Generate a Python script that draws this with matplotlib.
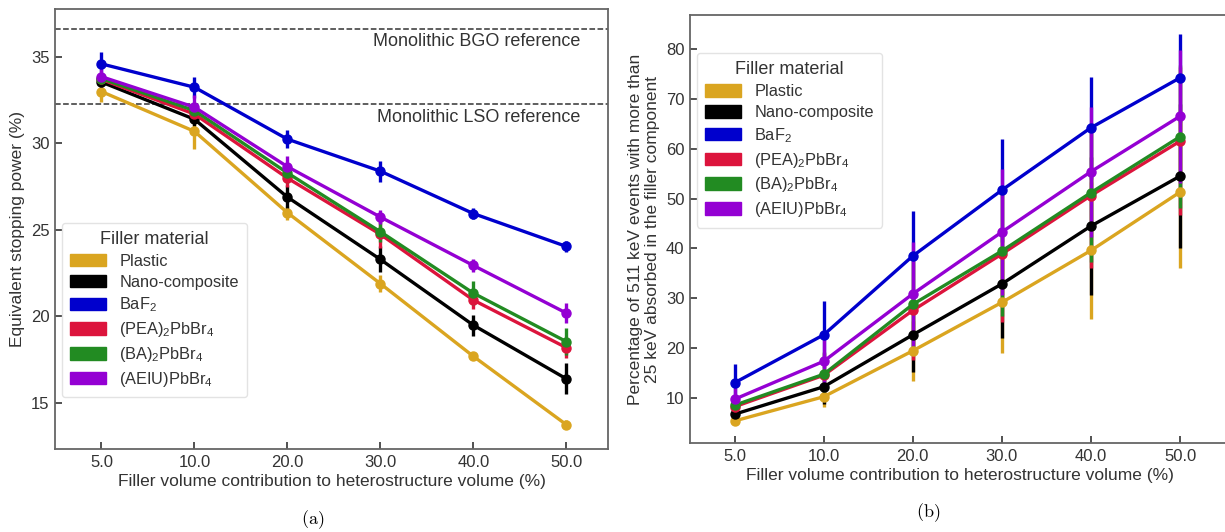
import numpy as np
import matplotlib
matplotlib.use('Agg')
import matplotlib.pyplot as plt
from matplotlib.patches import Patch

plt.rcParams['font.family'] = ['Liberation Sans', 'DejaVu Sans']
plt.rcParams['mathtext.fontset'] = 'custom'
plt.rcParams['mathtext.rm'] = 'Liberation Sans'
plt.rcParams['mathtext.it'] = 'Liberation Sans'

# categories (filler volume %)
categories = ['5.0', '10.0', '20.0', '30.0', '40.0', '50.0']
materials = ['Plastic', 'Nano-composite', 'BaF$_2$', '(PEA)$_2$PbBr$_4$',
             '(BA)$_2$PbBr$_4$', '(AEIU)PbBr$_4$']
colors = ['goldenrod', 'black', 'mediumblue', 'crimson', 'forestgreen', 'darkviolet']

# (a) equivalent stopping power (%)
stop_plastic = [33.0, 30.7, 26.0, 21.9, 17.7, 13.75]
stop_nano = [33.55, 31.4, 26.9, 23.3, 19.5, 16.4]
stop_baf2 = [34.6, 33.25, 30.25, 28.4, 25.95, 24.05]
stop_pea = [33.7, 31.7, 28.0, 24.75, 20.95, 18.2]
stop_ba = [33.75, 31.9, 28.3, 24.9, 21.35, 18.55]
stop_aeiu = [33.86, 32.1, 28.66, 25.75, 22.95, 20.2]

stop_err_plastic = [0.6, 1.0, 0.4, 0.5, 0.2, 0.25]
stop_err_nano = [0.3, 0.4, 0.7, 0.75, 0.6, 0.9]
stop_err_baf2 = [0.7, 0.6, 0.5, 0.6, 0.3, 0.3]
stop_err_pea = [0.3, 0.3, 0.5, 0.8, 0.5, 0.6]
stop_err_ba = [0.3, 0.3, 0.6, 0.6, 0.7, 0.8]
stop_err_aeiu = [0.6, 0.7, 0.6, 0.4, 0.4, 0.6]

bgo_ref = 36.62
lso_ref = 32.27

# (b) percentage of 511 keV events with > 25 keV in filler
frac_plastic = [5.45, 10.3, 19.5, 29.2, 39.6, 51.3]
frac_nano = [6.8, 12.3, 22.7, 32.9, 44.5, 54.5]
frac_baf2 = [13.1, 22.7, 38.5, 51.7, 64.2, 74.2]
frac_pea = [8.3, 14.6, 27.6, 38.9, 50.6, 61.5]
frac_ba = [8.6, 14.8, 28.8, 39.5, 51.2, 62.4]
frac_aeiu = [9.8, 17.4, 30.9, 43.3, 55.4, 66.5]

frac_err_plastic = [0.8, 2.0, 6.0, 10.1, 13.7, 15.3]
frac_err_nano = [1.5, 3.5, 7.4, 10.8, 13.8, 14.4]
frac_err_baf2 = [3.7, 6.7, 9.0, 10.3, 10.2, 8.8]
frac_err_pea = [2.0, 4.5, 9.9, 13.6, 14.6, 14.8]
frac_err_ba = [2.0, 4.5, 9.5, 13.0, 14.0, 14.3]
frac_err_aeiu = [3.0, 4.5, 10.5, 12.7, 13.0, 13.3]

stop_vals = [stop_plastic, stop_nano, stop_baf2, stop_pea, stop_ba, stop_aeiu]
stop_errs = [stop_err_plastic, stop_err_nano, stop_err_baf2, stop_err_pea, stop_err_ba, stop_err_aeiu]
frac_vals = [frac_plastic, frac_nano, frac_baf2, frac_pea, frac_ba, frac_aeiu]
frac_errs = [frac_err_plastic, frac_err_nano, frac_err_baf2, frac_err_pea, frac_err_ba, frac_err_aeiu]

fig = plt.figure(figsize=(12.25, 5.32), dpi=100)
ax1 = fig.add_axes([0.0449, 0.156, 0.4515, 0.827])
ax2 = fig.add_axes([0.5633, 0.167, 0.4400, 0.805])

x = np.arange(len(categories))


def style_axes(ax):
    for sp in ax.spines.values():
        sp.set_color('#666666')
        sp.set_linewidth(1.3)
    ax.tick_params(direction='in', length=5, width=1.2, color='#333333',
                   labelsize=12, labelcolor='#333333', pad=4)
    ax.set_xticks(x)
    ax.set_xticklabels(categories)
    ax.set_xlabel('Filler volume contribution to heterostructure volume (%)',
                  fontsize=12.5, color='#333333', labelpad=3)


def add_legend(ax, loc, anchor):
    handles = [Patch(facecolor=c, edgecolor=c) for c in colors]
    leg = ax.legend(handles, materials, title='Filler material', loc=loc,
                    bbox_to_anchor=anchor, borderaxespad=0, fontsize=11.8,
                    title_fontsize=13, frameon=True, fancybox=True,
                    handlelength=2.2, handleheight=0.8, labelspacing=0.36,
                    borderpad=0.5)
    leg.get_frame().set_edgecolor('#dddddd')
    for t in leg.get_texts():
        t.set_color('#333333')
    leg.get_title().set_color('#333333')


for vals, errs, c in zip(stop_vals, stop_errs, colors):
    ax1.errorbar(x, vals, yerr=errs, fmt='-o', color=c, lw=2.4, ms=6.5,
                 elinewidth=2.4, capsize=0)
ax1.axhline(bgo_ref, color='#333333', ls='--', lw=1.1)
ax1.axhline(lso_ref, color='#333333', ls='--', lw=1.1)
ax1.text(5.15, bgo_ref - 0.25, 'Monolithic BGO reference', ha='right', va='top',
         fontsize=13, color='#333333')
ax1.text(5.15, lso_ref - 0.25, 'Monolithic LSO reference', ha='right', va='top',
         fontsize=13, color='#333333')
style_axes(ax1)
ax1.set_xlim(-0.5, 5.45)
ax1.set_ylim(12.34, 37.77)
ax1.set_yticks([15, 20, 25, 30, 35])
ax1.set_ylabel('Equivalent stopping power (%)', fontsize=12.5, color='#333333', labelpad=4)
add_legend(ax1, 'lower left', (0.0126, 0.118))

for vals, errs, c in zip(frac_vals, frac_errs, colors):
    ax2.errorbar(x, vals, yerr=errs, fmt='-o', color=c, lw=2.4, ms=6.5,
                 elinewidth=2.4, capsize=0)
style_axes(ax2)
ax2.set_xlim(-0.5, 5.55)
ax2.set_ylim(1.0, 86.8)
ax2.set_yticks([10, 20, 30, 40, 50, 60, 70, 80])
ax2.set_ylabel('Percentage of 511 keV events with more than\n25 keV absorbed in the filler component',
               fontsize=12.5, color='#333333', labelpad=4)
add_legend(ax2, 'upper left', (0.013, 0.911))

fig.text(313 / 1225, 1 - 520 / 532, r'$\mathrm{(a)}$', ha='center', va='center',
         fontsize=13, math_fontfamily='cm')
fig.text(928 / 1225, 1 - 513 / 532, r'$\mathrm{(b)}$', ha='center', va='center',
         fontsize=13, math_fontfamily='cm')

fig.savefig('out.png', dpi=100)
